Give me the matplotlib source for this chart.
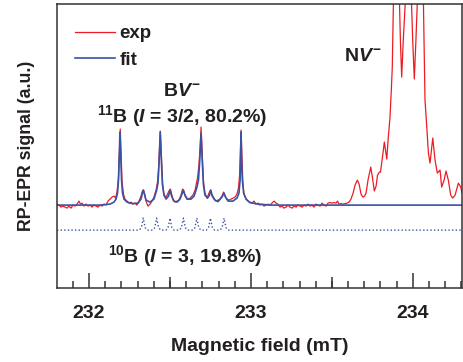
''' Espectro RP-EPR: centros BV- (11B y 10B) y la señal NV- '''

import matplotlib
matplotlib.use('Agg')
import matplotlib.pyplot as plt

fuente = 'Liberation Sans'
plt.rcParams['font.family'] = [fuente, 'DejaVu Sans']
plt.rcParams['font.weight'] = 'bold'
plt.rcParams['mathtext.fontset'] = 'custom'
plt.rcParams['mathtext.rm'] = fuente + ':bold'
plt.rcParams['mathtext.bf'] = fuente + ':bold'
plt.rcParams['mathtext.it'] = fuente + ':bold:italic'

'''Datos experimentales (campo en mT, señal en u.a.)'''
campo_exp = [231.802, 231.815, 231.827, 231.839, 231.852, 231.864, 231.876, 231.889,
             231.901, 231.914, 231.926, 231.938, 231.947, 231.957, 231.969, 231.981,
             231.994, 232.006, 232.019, 232.031, 232.043, 232.056, 232.068, 232.080,
             232.093, 232.105, 232.117, 232.130, 232.142, 232.154, 232.164, 232.173,
             232.182, 232.188, 232.193, 232.198, 232.204, 232.213, 232.222, 232.235,
             232.247, 232.259, 232.272, 232.284, 232.296, 232.309, 232.321, 232.330,
             232.337, 232.343, 232.352, 232.364, 232.377, 232.389, 232.401, 232.414,
             232.423, 232.429, 232.435, 232.440, 232.447, 232.454, 232.463, 232.476,
             232.488, 232.497, 232.503, 232.510, 232.519, 232.531, 232.544, 232.556,
             232.568, 232.578, 232.584, 232.593, 232.605, 232.618, 232.630, 232.642,
             232.655, 232.664, 232.670, 232.679, 232.687, 232.692, 232.698, 232.707,
             232.716, 232.729, 232.741, 232.750, 232.760, 232.772, 232.784, 232.797,
             232.809, 232.821, 232.831, 232.840, 232.852, 232.865, 232.877, 232.889,
             232.902, 232.914, 232.923, 232.930, 232.935, 232.939, 232.944, 232.950,
             232.957, 232.970, 232.982, 232.994, 233.007, 233.019, 233.031, 233.044,
             233.056, 233.069, 233.081, 233.093, 233.106, 233.118, 233.130, 233.143,
             233.155, 233.167, 233.180, 233.192, 233.204, 233.217, 233.229, 233.241,
             233.254, 233.266, 233.279, 233.291, 233.303, 233.316, 233.328, 233.340,
             233.353, 233.365, 233.377, 233.390, 233.402, 233.414, 233.427, 233.439,
             233.451, 233.464, 233.476, 233.489, 233.501, 233.513, 233.526, 233.535,
             233.544, 233.557, 233.569, 233.581, 233.594, 233.606, 233.618, 233.631,
             233.643, 233.657, 233.668, 233.680, 233.691, 233.702, 233.711, 233.723,
             233.740, 233.751, 233.762, 233.773, 233.782, 233.793, 233.800, 233.810,
             233.824, 233.831, 233.839, 233.847, 233.859, 233.867, 233.873, 233.880,
             233.898, 233.917, 233.923, 233.931, 233.941, 233.954, 233.972, 233.991,
             233.999, 234.009, 234.019, 234.028, 234.046, 234.065, 234.075, 234.082,
             234.096, 234.106, 234.123, 234.137, 234.151, 234.168, 234.178, 234.193,
             234.205, 234.219, 234.234, 234.246, 234.261, 234.281, 234.296, 234.304]
senal_exp = [0.01, 0.00, -0.02, -0.01, -0.02, -0.03, -0.01, -0.03,
             0.00, -0.01, 0.01, 0.04, 0.01, 0.02, -0.01, 0.01,
             -0.01, 0.00, -0.02, 0.00, -0.01, -0.02, 0.00, -0.01,
             0.01, 0.00, 0.04, 0.06, 0.08, 0.09, 0.07, 0.13,
             0.27, 0.55, 0.76, 0.53, 0.23, 0.11, 0.06, 0.04,
             0.02, 0.03, 0.01, 0.02, 0.00, 0.04, 0.09, 0.14,
             0.15, 0.11, 0.04, -0.01, 0.01, 0.04, 0.08, 0.15,
             0.23, 0.35, 0.55, 0.74, 0.50, 0.22, 0.10, 0.08,
             0.12, 0.15, 0.16, 0.11, 0.05, 0.03, 0.04, 0.05,
             0.10, 0.16, 0.15, 0.09, 0.07, 0.06, 0.08, 0.10,
             0.15, 0.22, 0.27, 0.40, 0.60, 0.78, 0.55, 0.23,
             0.12, 0.07, 0.12, 0.15, 0.09, 0.06, 0.04, 0.05,
             0.06, 0.09, 0.13, 0.09, 0.06, 0.05, 0.06, 0.07,
             0.08, 0.11, 0.17, 0.30, 0.55, 0.75, 0.50, 0.23,
             0.11, 0.06, 0.04, 0.03, 0.02, 0.04, 0.01, 0.02,
             0.00, 0.01, -0.01, 0.00, 0.01, 0.00, 0.02, 0.04,
             0.02, 0.01, -0.02, -0.01, -0.03, -0.02, 0.00, -0.02,
             -0.03, -0.01, -0.02, 0.00, -0.01, -0.02, 0.00, -0.01,
             0.01, -0.01, 0.00, -0.02, 0.01, 0.00, -0.01, 0.02,
             0.00, -0.01, 0.02, 0.025, 0.02, 0.025, 0.02, 0.04,
             0.01, 0.015, 0.01, 0.015, 0.02, 0.03, 0.06, 0.12,
             0.20, 0.25, 0.21, 0.11, 0.08, 0.09, 0.12, 0.25,
             0.38, 0.27, 0.14, 0.19, 0.30, 0.33, 0.33, 0.45,
             0.63, 0.55, 0.46, 0.65, 0.88, 1.15, 1.38, 2.05,
             2.65, 2.05, 1.65, 1.28, 1.65, 2.05, 2.65, 2.05,
             1.65, 1.26, 1.65, 2.05, 2.65, 2.05, 1.05, 0.88,
             0.52, 0.42, 0.67, 0.45, 0.32, 0.35, 0.18, 0.25,
             0.34, 0.25, 0.10, 0.07, 0.10, 0.22, 0.18, 0.12]

'''Ajuste (11B + 10B)'''
campo_fit = [231.802, 232.068, 232.130, 232.154, 232.167, 232.176, 232.182, 232.188,
             232.191, 232.195, 232.201, 232.207, 232.216, 232.235, 232.266, 232.303,
             232.321, 232.330, 232.335, 232.341, 232.352, 232.377, 232.401, 232.418,
             232.426, 232.432, 232.440, 232.448, 232.454, 232.463, 232.476, 232.491,
             232.500, 232.510, 232.525, 232.544, 232.562, 232.574, 232.582, 232.591,
             232.605, 232.630, 232.649, 232.665, 232.676, 232.684, 232.692, 232.699,
             232.707, 232.716, 232.732, 232.744, 232.752, 232.760, 232.778, 232.797,
             232.821, 232.834, 232.843, 232.859, 232.889, 232.914, 232.926, 232.933,
             232.936, 232.939, 232.942, 232.947, 232.955, 232.970, 232.994, 233.044,
             233.118, 234.304]
senal_fit = [0.00, 0.00, 0.01, 0.03, 0.06, 0.12, 0.25, 0.55,
             0.73, 0.55, 0.25, 0.12, 0.06, 0.03, 0.015, 0.02,
             0.06, 0.12, 0.15, 0.12, 0.05, 0.03, 0.06, 0.15,
             0.22, 0.40, 0.73, 0.40, 0.20, 0.10, 0.06, 0.09,
             0.15, 0.09, 0.04, 0.03, 0.06, 0.11, 0.15, 0.11,
             0.06, 0.06, 0.09, 0.17, 0.25, 0.45, 0.72, 0.45,
             0.20, 0.10, 0.07, 0.10, 0.15, 0.10, 0.05, 0.035,
             0.08, 0.12, 0.08, 0.04, 0.04, 0.07, 0.12, 0.25,
             0.45, 0.73, 0.45, 0.25, 0.12, 0.06, 0.025, 0.01,
             0.00, 0.00]

'''Componente de 10B (desplazada hacia abajo)'''
campo_b10 = [231.802,
             232.310, 232.323, 232.329, 232.335, 232.341, 232.347, 232.360,
             232.393, 232.406, 232.412, 232.418, 232.424, 232.430, 232.443,
             232.475, 232.488, 232.494, 232.500, 232.506, 232.512, 232.525,
             232.558, 232.571, 232.577, 232.583, 232.589, 232.595, 232.608,
             232.641, 232.654, 232.660, 232.666, 232.672, 232.678, 232.691,
             232.725, 232.738, 232.744, 232.750, 232.756, 232.762, 232.775,
             232.809, 232.822, 232.828, 232.834, 232.840, 232.846, 232.859,
             234.304]
senal_b10 = [-0.25,
             -0.25, -0.225, -0.18, -0.13, -0.18, -0.225, -0.25,
             -0.25, -0.225, -0.18, -0.13, -0.18, -0.225, -0.25,
             -0.25, -0.225, -0.18, -0.13, -0.18, -0.225, -0.25,
             -0.25, -0.225, -0.18, -0.13, -0.18, -0.225, -0.25,
             -0.25, -0.225, -0.18, -0.13, -0.18, -0.225, -0.25,
             -0.25, -0.225, -0.18, -0.13, -0.18, -0.225, -0.25,
             -0.25, -0.225, -0.18, -0.13, -0.18, -0.225, -0.25,
             -0.25]

ticks_mayores = [232, 233, 234]
ticks_medios = [232.5, 233.5]
ticks_menores = [231.9 + 0.1 * i for i in range(25)]

rojo = '#ed1c24'
azul = '#3953a4'
texto = '#231f20'
tam = 14

fig = plt.figure(figsize=(4.63, 3.62), dpi=100)
ax = fig.add_axes([0.123, 0.204, 0.875, 0.785])

ax.plot(campo_exp, senal_exp, color=rojo, lw=0.9, label='exp')
ax.plot(campo_fit, senal_fit, color=azul, lw=1.2, label='fit')
ax.plot(campo_b10, senal_b10, color=azul, lw=1.0, ls=(0, (1, 1.6)))

ax.set_xlim(231.802, 234.304)
ax.set_ylim(-0.83, 2.01)

ax.set_xticks(ticks_mayores)
ax.set_xticks(ticks_menores, minor=True)
ax.set_yticks([])
ax.tick_params(axis='x', which='major', direction='in', length=10.5, width=1.1,
               color='#333333', pad=12, labelsize=14, labelcolor=texto)
ax.tick_params(axis='x', which='minor', direction='in', length=5, width=1.1,
               color='#333333')
for t in ax.get_xticklabels():
    t.set_fontweight('bold')
sec = ax.secondary_xaxis('bottom')
sec.set_xticks(ticks_medios)
sec.tick_params(direction='in', length=8, width=1.1, color='#333333',
                labelbottom=False)
sec.spines['bottom'].set_visible(False)

for lado in ['left', 'right', 'top', 'bottom']:
    ax.spines[lado].set_linewidth(1.1)
    ax.spines[lado].set_color('#333333')

ax.set_xlabel('Magnetic field (mT)', fontsize=14, fontweight='bold',
              color=texto, labelpad=12)
ax.set_ylabel('RP-EPR signal (a.u.)', fontsize=12.8, fontweight='bold',
              color=texto, labelpad=16)

ax.legend(loc='upper left', bbox_to_anchor=(0.045, 0.925), frameon=False,
          handlelength=2.1, handletextpad=0.25, labelspacing=0.5,
          borderpad=0, borderaxespad=0, labelcolor=texto,
          prop={'family': fuente, 'weight': 'bold', 'size': 13.5})

ax.text(232.574, 1.14, r'B$V^{-}$', fontsize=tam, fontweight='bold',
        ha='center', va='center', color=texto)
ax.text(232.574, 0.89, r'$^{11}$B ($I$ = 3/2, 80.2%)', fontsize=tam,
        fontweight='bold', ha='center', va='center', color=texto)
ax.text(232.593, -0.51, r'$^{10}$B ($I$ = 3, 19.8%)', fontsize=tam,
        fontweight='bold', ha='center', va='center', color=texto)
ax.text(233.692, 1.49, r'N$V^{-}$', fontsize=tam, fontweight='bold',
        ha='center', va='center', color=texto)

plt.savefig('out.png', dpi=100)
